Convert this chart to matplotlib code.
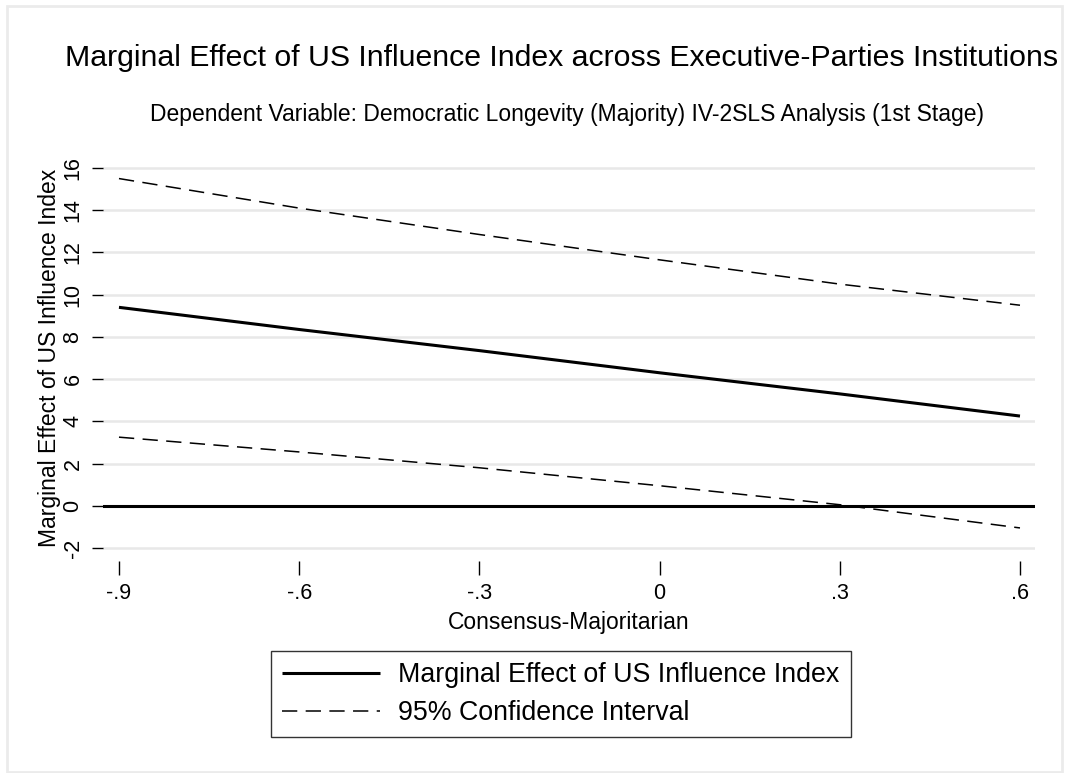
import matplotlib
matplotlib.use("Agg")
import matplotlib.pyplot as plt
from matplotlib.patches import Rectangle

plt.rcParams['font.family'] = ['Liberation Sans', 'DejaVu Sans']

# Data
x_vals = [-0.9, -0.6, -0.3, 0.0, 0.3, 0.6]
marginal = [9.4, 8.35, 7.35, 6.3, 5.3, 4.25]
upper_ci = [15.5, 14.1, 12.85, 11.65, 10.5, 9.5]
lower_ci = [3.25, 2.55, 1.8, 0.95, 0.05, -1.05]
x_ticks = [-0.9, -0.6, -0.3, 0.0, 0.3, 0.6]
x_tick_labels = ["-.9", "-.6", "-.3", "0", ".3", ".6"]
y_ticks = [-2, 0, 2, 4, 6, 8, 10, 12, 14, 16]

W, H = 1078, 773
fig = plt.figure(figsize=(W / 100, H / 100), dpi=100)

def fx(px):
    return px / W

def fy(py):
    return 1 - py / H

# outer light frame
fig.patches.append(Rectangle((fx(7), fy(772)), fx(1062) - fx(7), fy(6) - fy(772),
                             transform=fig.transFigure, fill=False,
                             edgecolor='#ebebeb', linewidth=2))

ax = fig.add_axes([fx(103), fy(561), fx(1035) - fx(103), fy(155) - fy(561)])
for s in ax.spines.values():
    s.set_visible(False)

ax.set_xlim(-0.9266, 0.625)
ax.set_ylim(-2.616, 16.616)

for yv in y_ticks:
    ax.axhline(yv, color='#e8e8e8', linewidth=1.8, zorder=0)
ax.axhline(0, color='black', linewidth=2.2, zorder=2)

ax.plot(x_vals, marginal, color='black', linewidth=2.2, solid_capstyle='butt',
        label='Marginal Effect of US Influence Index', zorder=3)
ax.plot(x_vals, upper_ci, color='black', linewidth=1.1, dashes=(10, 5.5),
        label='95% Confidence Interval', zorder=3)
ax.plot(x_vals, lower_ci, color='black', linewidth=1.1, dashes=(10, 5.5), zorder=3)

ax.set_xticks(x_ticks)
ax.set_xticklabels(x_tick_labels, fontsize=15.5)
ax.set_yticks(y_ticks)
ax.set_yticklabels([str(v) for v in y_ticks], fontsize=15.5, rotation=90, va='center')
ax.tick_params(axis='x', length=10, width=1, pad=6, direction='out')
ax.tick_params(axis='y', length=8, width=1, pad=6, direction='out')

ax.set_xlabel('Consensus-Majoritarian', fontsize=16.5, labelpad=5)
ax.set_ylabel('Marginal Effect of US Influence Index', fontsize=16.5, labelpad=1)

fig.text(fx(562), fy(58), 'Marginal Effect of US Influence Index across Executive-Parties Institutions',
         ha='center', va='center', fontsize=21.8)
fig.text(fx(567), fy(114), 'Dependent Variable: Democratic Longevity (Majority) IV-2SLS Analysis (1st Stage)',
         ha='center', va='center', fontsize=16.5)

handles, labels = ax.get_legend_handles_labels()
leg = fig.legend(handles, labels, loc='center', bbox_to_anchor=(fx(561), fy(694)),
                 fontsize=19.3, frameon=True, fancybox=False, handlelength=3.65,
                 handletextpad=0.67, borderpad=0.41, labelspacing=0.45)
leg.get_frame().set_edgecolor('black')
leg.get_frame().set_linewidth(1)

fig.savefig('out.png', dpi=100)
